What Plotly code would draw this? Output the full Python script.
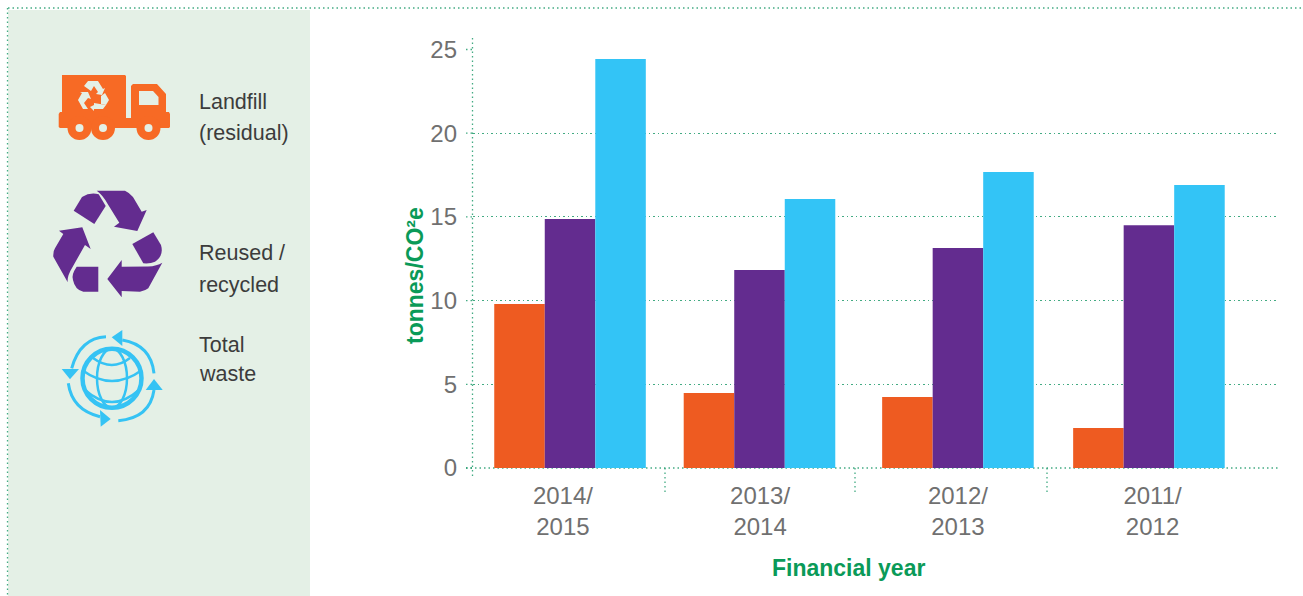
import re
import plotly.graph_objects as go

W, H = 1303, 596

# Financial years and waste figures, tonnes CO2e
years = ["2014/<br>2015", "2013/<br>2014", "2012/<br>2013", "2011/<br>2012"]
group_positions = [0, 0.992, 2.031, 3.031]
label_positions = [-0.037, 0.995, 2.031, 3.05]
landfill = [9.8, 4.48, 4.24, 2.39]
recycled = [14.87, 11.83, 13.14, 14.5]
total_waste = [24.43, 16.07, 17.68, 16.9]
y_ticks = [0, 5, 10, 15, 20, 25]
divider_px = [665, 855, 1047]
legend_lines = [("Landfill", 102), ("(residual)", 133), ("Reused /", 253),
                ("recycled", 285), ("Total", 345), ("waste", 374)]

ORANGE, PURPLE, BLUE = "#ee5b21", "#632c8f", "#33c4f6"
TRUCK, ICON_BLUE, PANEL = "#f76a25", "#35c3f4", "#e4f0e6"
GREEN, DOT = "#0a9a58", "rgba(20,150,100,0.8)"
DOTS = "1.5px,3px"
SANS = "Liberation Sans"


def px_x(x):
    return x / W


def px_y(y):
    return 1 - y / H


def paper_path(d):
    """Convert an SVG path written in page pixels to paper coordinates."""
    out, is_x = [], True
    for tok in re.findall(r"[A-Za-z]|-?\d+\.?\d*", d):
        if tok.isalpha():
            out.append(tok)
        else:
            v = float(tok)
            out.append(f"{(px_x(v) if is_x else px_y(v)):.5f}")
            is_x = not is_x
    return " ".join(out)


def fill_path(d, color):
    return dict(type="path", xref="paper", yref="paper", path=paper_path(d),
                fillcolor=color, line=dict(width=0), layer="above")


def stroke_path(d, color, width):
    return dict(type="path", xref="paper", yref="paper", path=paper_path(d),
                fillcolor="rgba(0,0,0,0)", line=dict(color=color, width=width), layer="above")


def ellipse(cx, cy, rx, ry, fill="rgba(0,0,0,0)", stroke=None, width=0):
    return dict(type="circle", xref="paper", yref="paper",
                x0=px_x(cx - rx), x1=px_x(cx + rx), y0=px_y(cy + ry), y1=px_y(cy - ry),
                fillcolor=fill, line=dict(color=stroke or fill, width=width), layer="above")


def dotted(x0, y0, x1, y1, layer="below"):
    return dict(type="line", xref="paper", yref="paper",
                x0=px_x(x0), x1=px_x(x1), y0=px_y(y0), y1=px_y(y1),
                line=dict(color=DOT, width=1.3, dash=DOTS), layer=layer)


shapes = [
    dict(type="rect", xref="paper", yref="paper", x0=px_x(8), x1=px_x(310),
         y0=0, y1=px_y(10), fillcolor=PANEL, line=dict(width=0), layer="below"),
    dotted(8, 8, 1303, 8),
    dotted(7.5, 8, 7.5, 596),
    dotted(472.5, 38, 472.5, 476),
    dotted(466, 468, 1279, 468),
]
shapes += [dotted(x, 468, x, 492) for x in divider_px]
shapes += [dotted(466, 468 - v * 16.74, 473, 468 - v * 16.74) for v in y_ticks]

# Truck icon
shapes += [
    fill_path("M62 75 L125 75 L126 76 L126 118 L131 118 L131 86 L133 84 L157 84 L166 94 "
              "L166 112 L169 112 L170 114 L170 127 L169 128 L60 128 L58.7 127 L58.7 114 "
              "L60 112 L62 112 Z", TRUCK),
    fill_path("M139 91 L153 91 L158.5 97 L158.5 105 L139 105 Z", PANEL),
]
for cx in (79.5, 103, 148.5):
    shapes += [ellipse(cx, 128, 12, 12, TRUCK), ellipse(cx, 128, 4, 4, PANEL)]
shapes += [
    fill_path("M84 86 L88 81 L98 81 L103 89 L105 88 L102 95 L96 94 L98 92 L94 86 L91 91 Z", PANEL),
    fill_path("M78 100 L82 93 L80 92 L88 92 L91 99 L88 98 L84 103 L88 109 L83 109 Z", PANEL),
    fill_path("M101 96 L105 93 L109 100 L106 105 L101 104 Z", PANEL),
    fill_path("M94 105 L94 103 L106 105 L103 109 L94 109 L94 111 L90 107 Z", PANEL),
]

# Recycling icon
shapes += [
    fill_path("M73.7 210.7 L82 197 Q90 192 98.7 194.3 L105.7 206 L94.3 224 Z", PURPLE),
    fill_path("M96.7 190.7 L125 190.7 Q130 193 133 197 L141.7 211.7 L146.7 210 L137.3 231 "
              "L114 226.7 L119.3 222.7 L108.3 205 Q103 195 96.7 190.7 Z", PURPLE),
    fill_path("M59 230.7 L82.3 227.3 L90.7 249 L85 245 L72 268 Q67 276 67.7 282.3 "
              "L53.3 256.7 Q53 251 55 248.3 L63.3 234 Z", PURPLE),
    fill_path("M132.3 244 L153.3 232.3 L161 245 Q164 256 155 261.7 Q150 264 143.3 263.3 Z", PURPLE),
    fill_path("M98.3 266.7 L98.3 291.7 L83.3 291.7 Q75 290 73 280 Q71 275 76.7 266.7 Z", PURPLE),
    fill_path("M121.7 260 L121.7 266.7 L148 266.5 Q157 266 162.3 262.7 L148.3 288.3 "
              "Q145 291 140 291.7 L121.7 291 L121.7 297.3 L107.3 279 Z", PURPLE),
]

# Globe icon with circulating arrows
shapes += [
    ellipse(112, 378.3, 29.5, 29.5, stroke=ICON_BLUE, width=4.5),
    ellipse(112, 378.3, 15, 29.5, stroke=ICON_BLUE, width=2.5),
    stroke_path("M93 358 Q112 372 130 358", ICON_BLUE, 2.5),
    stroke_path("M82 370 Q112 392 142 370", ICON_BLUE, 2.5),
    stroke_path("M85 390 Q112 414 139 390", ICON_BLUE, 2.5),
    stroke_path("M106 336.7 Q80 338 71.7 368.3", ICON_BLUE, 3),
    fill_path("M61.7 369 L79 369 L70 379.3 Z", ICON_BLUE),
    stroke_path("M68.3 383.3 Q72 410 100 416.7", ICON_BLUE, 3),
    fill_path("M100 410 L100.7 426.7 L110.7 419 Z", ICON_BLUE),
    stroke_path("M118.3 420.7 Q150 418 154 390", ICON_BLUE, 3),
    fill_path("M145.7 390 L162.7 390 L154 379 Z", ICON_BLUE),
    stroke_path("M154 373.3 Q151 345 122.3 340", ICON_BLUE, 3),
    fill_path("M122.3 330 L122.3 346 L111.7 337.3 Z", ICON_BLUE),
]

annotations = [
    dict(xref="paper", yref="paper", x=px_x(197), y=px_y(y), text=t, showarrow=False,
         xanchor="left", yanchor="middle", font=dict(family=SANS, size=21.5, color="#3c3c3c"))
    for t, y in legend_lines
]
annotations += [
    dict(xref="paper", yref="paper", x=px_x(848), y=px_y(568), text="<b>Financial year</b>",
         showarrow=False, xanchor="center", yanchor="middle",
         font=dict(family=SANS, size=23, color=GREEN)),
    dict(xref="paper", yref="paper", x=px_x(415), y=px_y(276), text="<b>tonnes/CO²e</b>",
         showarrow=False, textangle=-90, xanchor="center", yanchor="middle",
         font=dict(family=SANS, size=23, color=GREEN)),
]

fig = go.Figure()
for name, values, color in [("Landfill (residual)", landfill, ORANGE),
                            ("Reused / recycled", recycled, PURPLE),
                            ("Total waste", total_waste, BLUE)]:
    fig.add_bar(x=group_positions, y=values, name=name, marker=dict(color=color, line=dict(width=0)))

fig.update_layout(
    width=W, height=H, autosize=False,
    margin=dict(l=0, r=0, t=0, b=0, autoexpand=False),
    paper_bgcolor="white", plot_bgcolor="white", showlegend=False,
    barmode="group", bargap=0.2, bargroupgap=0,
    shapes=shapes, annotations=annotations,
    font=dict(family=SANS),
    xaxis=dict(domain=[px_x(473), px_x(1279)], range=[-0.508, 3.712],
               tickmode="array", tickvals=label_positions, ticktext=years,
               showgrid=False, zeroline=False, showline=False, ticks="",
               ticklabelstandoff=11, tickangle=0,
               tickfont=dict(family=SANS, size=24, color="#707070")),
    yaxis=dict(domain=[px_y(468), px_y(49.5)], range=[0, 25],
               tickmode="array", tickvals=y_ticks,
               showgrid=True, gridcolor=DOT, griddash=DOTS, gridwidth=1.3,
               zeroline=False, showline=False, ticks="",
               ticklabelstandoff=15,
               tickfont=dict(family=SANS, size=24, color="#707070")),
)

fig.write_html("out.html")
